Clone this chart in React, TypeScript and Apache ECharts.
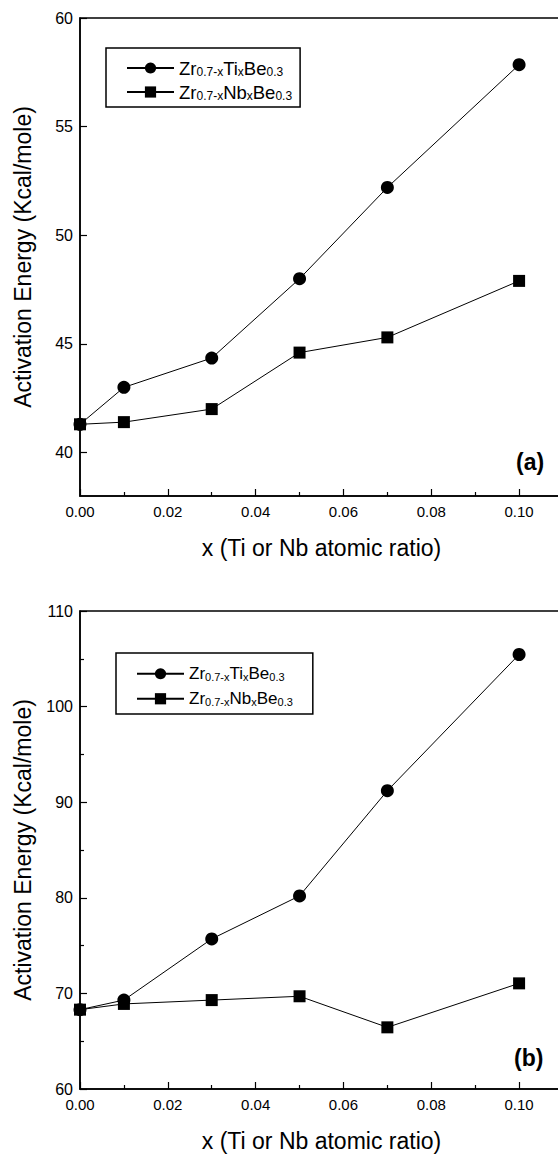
import React, { useEffect, useRef } from "react";
import * as echarts from "echarts";

const xValues = [0, 0.01, 0.03, 0.05, 0.07, 0.1];
const tiA = [41.3, 43.0, 44.35, 48.0, 52.2, 57.85];
const nbA = [41.3, 41.4, 42.0, 44.6, 45.3, 47.9];
const tiB = [68.3, 69.3, 75.7, 80.2, 91.2, 105.45];
const nbB = [68.3, 68.9, 69.3, 69.7, 66.45, 71.05];
const yMajorA = [40, 45, 50, 55, 60];
const yMinorA = [42.5, 47.5, 52.5, 57.5];
const xTitle = "x (Ti or Nb atomic ratio)";
const yTitle = "Activation Energy (Kcal/mole)";

const FONT = "'Liberation Sans', Arial, sans-serif";

function pairs(ys: number[]) {
  return xValues.map((x, i) => [x, ys[i]]);
}

const axisLineStyle = { show: true, lineStyle: { color: "#000", width: 1.5 } };

function makeX(gridIndex: number) {
  return {
    type: "value",
    gridIndex,
    min: 0,
    max: 0.11,
    interval: 0.02,
    axisLine: axisLineStyle,
    axisTick: { show: true, inside: true, length: 7, lineStyle: { color: "#000", width: 1.2 } },
    minorTick: { show: true, splitNumber: 2, length: 4, lineStyle: { color: "#000", width: 1.2 } },
    axisLabel: {
      color: "#000",
      fontSize: 15,
      fontFamily: FONT,
      margin: 8,
      showMaxLabel: false,
      formatter: (v: number) => (v > 0.105 ? "" : v.toFixed(2)),
    },
    splitLine: { show: false },
    name: xTitle,
    nameLocation: "middle",
    nameGap: 40,
    nameTextStyle: { color: "#000", fontSize: 23, fontFamily: FONT },
  };
}

function legendText(name: string) {
  if (name.startsWith("Ti")) return "{a|Zr}{s|0.7-x}{a|Ti}{s|x}{a|Be}{s|0.3}";
  return "{a|Zr}{s|0.7-x}{a|Nb}{s|x}{a|Be}{s|0.3}";
}

function makeLegend(names: string[], left: number, top: number, fs: number, sub: number, gap: number, pad: number[]) {
  return {
    data: names,
    orient: "vertical",
    left,
    top,
    itemWidth: 47,
    itemHeight: 14,
    itemGap: gap,
    padding: pad,
    borderColor: "#000",
    borderWidth: 1.5,
    formatter: legendText,
    textStyle: {
      color: "#000",
      fontFamily: FONT,
      rich: {
        a: { fontSize: fs, fontFamily: FONT, color: "#000", lineHeight: fs + 0.5, verticalAlign: "top" },
        s: { fontSize: sub, fontFamily: FONT, color: "#000", lineHeight: sub + 1, verticalAlign: "bottom", padding: [12, 0, 0, 0] },
      },
    },
  };
}

function series(name: string, data: number[], symbol: string, idx: number) {
  return {
    name,
    type: "line",
    xAxisIndex: idx,
    yAxisIndex: idx,
    data: pairs(data),
    symbol,
    symbolSize: symbol === "circle" ? 13 : 12,
    showSymbol: true,
    lineStyle: { color: "#000", width: 1 },
    itemStyle: { color: "#000" },
  };
}

export default function App() {
  const ref = useRef<HTMLDivElement>(null);
  useEffect(() => {
    if (!ref.current) return;
    const chart = echarts.init(ref.current, undefined, { renderer: "svg" });
    chart.setOption({
      animation: false,
      backgroundColor: "#fff",
      textStyle: { fontFamily: FONT },
      grid: [
        { left: 80, top: 18, width: 483, height: 478, outerBoundsMode: "none", containLabel: false, show: true, borderColor: "#000", borderWidth: 1.5 },
        { left: 80, top: 611, width: 483, height: 478, outerBoundsMode: "none", containLabel: false, show: true, borderColor: "#000", borderWidth: 1.5 },
      ],
      xAxis: [makeX(0), makeX(1)],
      yAxis: [
        {
          type: "value",
          gridIndex: 0,
          min: 38,
          max: 60,
          axisLine: axisLineStyle,
          axisTick: { show: true, inside: true, length: 7, customValues: yMajorA, lineStyle: { color: "#000", width: 1.2 } },
          axisLabel: { color: "#000", fontSize: 16, fontFamily: FONT, margin: 7, customValues: yMajorA },
          splitLine: { show: false },
          name: yTitle,
          nameLocation: "middle",
          nameGap: 46,
          nameTextStyle: { color: "#000", fontSize: 23, fontFamily: FONT },
        },
        {
          type: "value",
          gridIndex: 1,
          min: 60,
          max: 110,
          interval: 10,
          axisLine: axisLineStyle,
          axisTick: { show: true, inside: true, length: 7, lineStyle: { color: "#000", width: 1.2 } },
          minorTick: { show: true, splitNumber: 2, length: 4, lineStyle: { color: "#000", width: 1.2 } },
          axisLabel: { color: "#000", fontSize: 16, fontFamily: FONT, margin: 7 },
          splitLine: { show: false },
          name: yTitle,
          nameLocation: "middle",
          nameGap: 46,
          nameTextStyle: { color: "#000", fontSize: 23, fontFamily: FONT },
        },
        {
          type: "value",
          gridIndex: 0,
          min: 38,
          max: 60,
          axisLine: { show: false },
          axisTick: { show: true, inside: true, length: 4, customValues: yMinorA, lineStyle: { color: "#000", width: 1.2 } },
          axisLabel: { show: false },
          splitLine: { show: false },
        },
      ],
      legend: [
        makeLegend(["Ti_a", "Nb_a"], 106, 48, 18.5, 12, 0, [5.5, 8, 5.5, 20]),
        makeLegend(["Ti_b", "Nb_b"], 116, 653, 17, 11, 2, [6.5, 20, 6.5, 20]),
      ],
      series: [
        series("Ti_a", tiA, "circle", 0),
        series("Nb_a", nbA, "rect", 0),
        series("Ti_b", tiB, "circle", 1),
        series("Nb_b", nbB, "rect", 1),
      ],
      graphic: [
        { type: "text", left: 516, top: 450, style: { text: "(a)", fontSize: 23, fontWeight: "bold", fontFamily: FONT, fill: "#000" } },
        { type: "text", left: 514, top: 1046, style: { text: "(b)", fontSize: 23, fontWeight: "bold", fontFamily: FONT, fill: "#000" } },
      ],
    });
    return () => chart.dispose();
  }, []);
  return (
    <div
      ref={ref}
      style={{ position: "fixed", left: 0, top: 0, width: 558, height: 1154, background: "#fff" }}
    />
  );
}
